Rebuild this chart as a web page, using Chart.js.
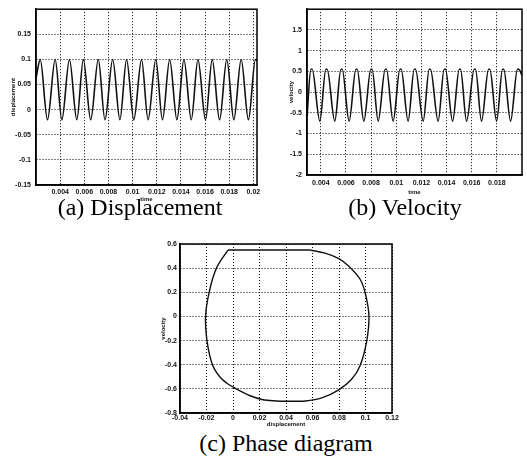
<!DOCTYPE html>
<html>
<head>
<meta charset="utf-8">
<script src="https://cdn.jsdelivr.net/npm/chart.js@4"></script>
<style>
  body { margin: 0; background: #fff; width: 527px; height: 463px; position: relative; overflow: hidden; }
  canvas { position: absolute; }
  .cap { position: absolute; font-family: "Liberation Serif", "Times New Roman", serif; font-size: 24px; line-height: 24px; color: #000; white-space: nowrap; transform: translateX(-50%); }
</style>
</head>
<body>
<canvas id="dispChart" width="265" height="205" style="left:0px;top:0px"></canvas>
<canvas id="velChart" width="262" height="205" style="left:265px;top:0px"></canvas>
<canvas id="phaseChart" width="270" height="195" style="left:140px;top:235px"></canvas>
<div class="cap" style="left:140px;top:195px">(a) Displacement</div>
<div class="cap" style="left:405px;top:195px">(b) Velocity</div>
<div class="cap" style="left:286px;top:431px">(c) Phase diagram</div>
<script>
// (a) displacement vs time: start, peaks / troughs, end
const dispTime = [0.0020, 0.00235, 0.00295, 0.00359, 0.00414, 0.00477, 0.00538, 0.00592, 0.00653,
  0.00716, 0.00771, 0.00835, 0.00895, 0.00950, 0.01010, 0.01074, 0.01128, 0.01192, 0.01247,
  0.01307, 0.01367, 0.01425, 0.01486, 0.01541, 0.01604, 0.01659, 0.01720, 0.01780, 0.01838,
  0.01899, 0.01959, 0.02017, 0.0203];
const dispValue = [0.062, 0.1, -0.02, 0.1, -0.02, 0.1, -0.02, 0.1, -0.02,
  0.1, -0.02, 0.1, -0.02, 0.1, -0.02, 0.1, -0.02, 0.1, -0.02,
  0.1, -0.02, 0.1, -0.02, 0.1, -0.02, 0.1, -0.02, 0.1, -0.02,
  0.1, -0.02, 0.1, 0.097];
const dispXTicks = [0.004, 0.006, 0.008, 0.01, 0.012, 0.014, 0.016, 0.018, 0.02];
const dispYTicks = [-0.15, -0.1, -0.05, 0, 0.05, 0.1, 0.15];

// (b) velocity vs time: flat (clipped) tops at 0.55
const velTime = [0.0029,
  0.00321, 0.00331, 0.00392, 0.00440, 0.00450, 0.00511, 0.00560, 0.00570, 0.00625,
  0.00679, 0.00689, 0.00742, 0.00798, 0.00808, 0.00856, 0.00912, 0.00922, 0.00975,
  0.01029, 0.01039, 0.01094, 0.01143, 0.01153, 0.01214, 0.01262, 0.01272, 0.01333,
  0.01381, 0.01391, 0.01448, 0.01501, 0.01511, 0.01559, 0.01620, 0.01630, 0.01678,
  0.01734, 0.01744, 0.01798, 0.01845, 0.01855, 0.01909, 0.01964, 0.01974,
  0.0200];
const velValue = [-0.6,
  0.55, 0.55, -0.7, 0.55, 0.55, -0.7, 0.55, 0.55, -0.7,
  0.55, 0.55, -0.7, 0.55, 0.55, -0.7, 0.55, 0.55, -0.7,
  0.55, 0.55, -0.7, 0.55, 0.55, -0.7, 0.55, 0.55, -0.7,
  0.55, 0.55, -0.7, 0.55, 0.55, -0.7, 0.55, 0.55, -0.7,
  0.55, 0.55, -0.7, 0.55, 0.55, -0.7, 0.55, 0.55,
  0.4];
const velXTicks = [0.004, 0.006, 0.008, 0.01, 0.012, 0.014, 0.016, 0.018];
const velYTicks = [-2, -1.5, -1, -0.5, 0, 0.5, 1, 1.5];

// (c) phase diagram, clockwise from the left end of the flat top
const phaseDisp = [-0.0038, 0.0583, 0.0695, 0.0795, 0.087, 0.0958, 0.100, 0.1026, 0.1008,
  0.0958, 0.0895, 0.0795, 0.067, 0.0545, 0.041, 0.0325, 0.0225, 0.0125, 0.0025,
  -0.0038, -0.010, -0.0155, -0.0195, -0.0207, -0.018, -0.0125, -0.0038];
const phaseVel = [0.55, 0.55, 0.524, 0.48, 0.42, 0.31, 0.185, 0, -0.21,
  -0.41, -0.52, -0.61, -0.675, -0.70, -0.703, -0.70, -0.69, -0.655, -0.60,
  -0.56, -0.50, -0.40, -0.21, 0, 0.2, 0.40, 0.55];
const phaseXTicks = [-0.04, -0.02, 0, 0.02, 0.04, 0.06, 0.08, 0.1, 0.12];
const phaseYTicks = [-0.8, -0.6, -0.4, -0.2, 0, 0.2, 0.4, 0.6];

Chart.defaults.color = '#111';
Chart.defaults.font.family = 'Liberation Sans';

const tickFont = { family: 'Liberation Sans', size: 7, weight: 'bold' };
const titleFont = { family: 'Liberation Sans', size: 6, weight: 'bold' };

const framePlugin = {
  id: 'frame',
  afterDraw(chart) {
    const { ctx, chartArea: a } = chart;
    ctx.save();
    ctx.strokeStyle = '#000';
    ctx.lineWidth = 1.5;
    ctx.strokeRect(a.left, a.top, a.right - a.left, a.bottom - a.top);
    ctx.restore();
  }
};

function points(xs, ys) {
  return xs.map((x, i) => ({ x: x, y: ys[i] }));
}

function axis(c) {
  return {
    type: 'linear',
    min: c.min,
    max: c.max,
    afterBuildTicks: s => { s.ticks = c.ticks.map(v => ({ value: v })); },
    afterFit: s => { if (c.width !== undefined) s.width = c.width; else s.height = c.height; },
    ticks: { font: tickFont, padding: c.tickPad, maxRotation: 0, autoSkip: false, callback: v => String(v) },
    grid: { color: '#000', lineWidth: 1, drawTicks: false },
    border: { color: '#000', width: 1.5, dash: [1, 2] },
    title: { display: true, text: c.title, font: titleFont, padding: c.titlePad }
  };
}

function baseOptions(pad, x, y) {
  return {
    responsive: false,
    animation: false,
    devicePixelRatio: 1,
    layout: { padding: pad },
    plugins: { legend: { display: false }, tooltip: { enabled: false } },
    elements: { point: { radius: 0 } },
    scales: { x: axis(x), y: axis(y) }
  };
}

new Chart(document.getElementById('dispChart'), {
  type: 'line',
  data: {
    datasets: [{
      data: points(dispTime, dispValue),
      borderColor: '#111', borderWidth: 1.6, cubicInterpolationMode: 'monotone'
    }]
  },
  options: baseOptions({ left: 0, top: 3, right: 8, bottom: 2 },
    { min: 0.002, max: 0.0203, ticks: dispXTicks, height: 18, tickPad: 3, title: 'time', titlePad: { top: 0, bottom: 0 } },
    { min: -0.15, max: 0.2, ticks: dispYTicks, width: 36, tickPad: 5, title: 'displacement', titlePad: { top: 9.4, bottom: 0 } }),
  plugins: [framePlugin]
});

new Chart(document.getElementById('velChart'), {
  type: 'line',
  data: {
    datasets: [{
      data: points(velTime, velValue),
      borderColor: '#111', borderWidth: 1.6, cubicInterpolationMode: 'monotone'
    }]
  },
  options: baseOptions({ left: 20, top: 2, right: 5, bottom: 9 },
    { min: 0.0029, max: 0.02, ticks: velXTicks, height: 21, tickPad: 4, title: 'time', titlePad: { top: 0, bottom: 0.4 } },
    { min: -2, max: 2, ticks: velYTicks, width: 22, tickPad: 5, title: 'velocity', titlePad: { top: 2.4, bottom: 0 } }),
  plugins: [framePlugin]
});

const phasePts = points(phaseDisp, phaseVel);
new Chart(document.getElementById('phaseChart'), {
  type: 'scatter',
  data: {
    datasets: [
      { data: phasePts.slice(0, 2), showLine: true, borderColor: '#111', borderWidth: 1.4, tension: 0 },
      { data: phasePts.slice(1), showLine: true, borderColor: '#111', borderWidth: 1.4, tension: 0.33 }
    ]
  },
  options: baseOptions({ left: 15, top: 9, right: 18, bottom: 2 },
    { min: -0.04, max: 0.12, ticks: phaseXTicks, height: 15, tickPad: 1, title: 'displacement', titlePad: { top: 0, bottom: 0.4 } },
    { min: -0.8, max: 0.6, ticks: phaseYTicks, width: 25, tickPad: 3, title: 'velocity', titlePad: { top: 4.4, bottom: 0 } }),
  plugins: [framePlugin]
});
</script>
</body>
</html>
